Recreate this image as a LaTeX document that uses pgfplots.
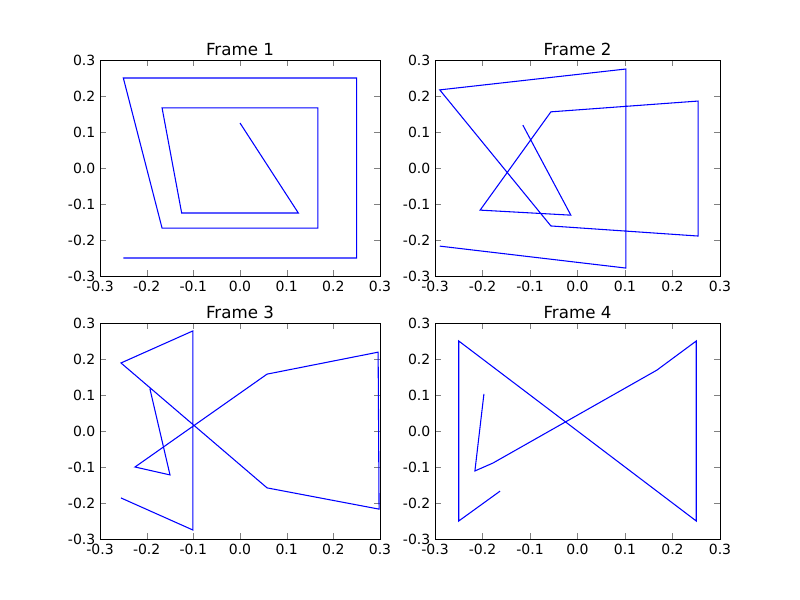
\documentclass[border=0pt]{standalone}
\usepackage{pgfplots}
\pgfplotsset{compat=1.18}
\usepackage{fontspec}
\setmainfont{DejaVu Sans}
\pgfplotsset{fr/.style={scale only axis, height=162pt, xmin=-0.3,xmax=0.3,ymin=-0.3,ymax=0.3,
 xtick={-0.3,-0.2,...,0.3}, ytick={-0.3,-0.2,...,0.3}, tick align=inside, xtick pos=both, ytick pos=both,
 /pgf/number format/assume math mode=true, /pgf/number format/fixed, /pgf/number format/fixed zerofill, /pgf/number format/precision=1,
 tick label style={font=\fontsize{10.5}{12}\selectfont}, title style={font=\fontsize{12.5}{14}\selectfont, yshift=-6pt},
 anchor=south west, axis line style={black}, every axis plot/.append style={line width=0.8pt}}}
\begin{document}
\begin{tikzpicture}
\path (0,0) rectangle (600pt,450pt);
\begin{axis}[fr, width=210pt, at={(75pt,243pt)}, title={Frame 1}]
\addplot[blue, no markers] coordinates {(0,0.125)(0.125,-0.125)(-0.125,-0.125)(-0.167,0.167)(0.167,0.167)(0.167,-0.167)(-0.167,-0.167)(-0.25,0.25)(0.25,0.25)(0.25,-0.25)(-0.25,-0.25)};
\end{axis}
\begin{axis}[fr, width=213.75pt, at={(326.25pt,243pt)}, title={Frame 2}]
\addplot[blue, no markers] coordinates {(-0.115,0.119)(-0.014,-0.131)(-0.205,-0.117)(-0.056,0.156)(0.254,0.186)(0.254,-0.189)(-0.056,-0.161)(-0.29,0.217)(0.102,0.275)(0.102,-0.278)(-0.29,-0.217)};
\end{axis}
\begin{axis}[fr, width=210pt, at={(75pt,45.75pt)}, title={Frame 3}]
\addplot[blue, no markers] coordinates {(-0.193,0.117)(-0.15,-0.122)(-0.225,-0.1)(0.058,0.158)(0.296,0.219)(0.298,-0.217)(0.058,-0.158)(-0.255,0.189)(-0.101,0.278)(-0.101,-0.275)(-0.255,-0.186)};
\end{axis}
\begin{axis}[fr, width=213.75pt, at={(326.25pt,45.75pt)}, title={Frame 4}]
\addplot[blue, no markers] coordinates {(-0.197,0.103)(-0.216,-0.111)(-0.178,-0.089)(0.167,0.169)(0.25,0.25)(0.25,-0.25)(-0.25,0.25)(-0.25,-0.25)(-0.163,-0.167)};
\end{axis}
\end{tikzpicture}
\end{document}
